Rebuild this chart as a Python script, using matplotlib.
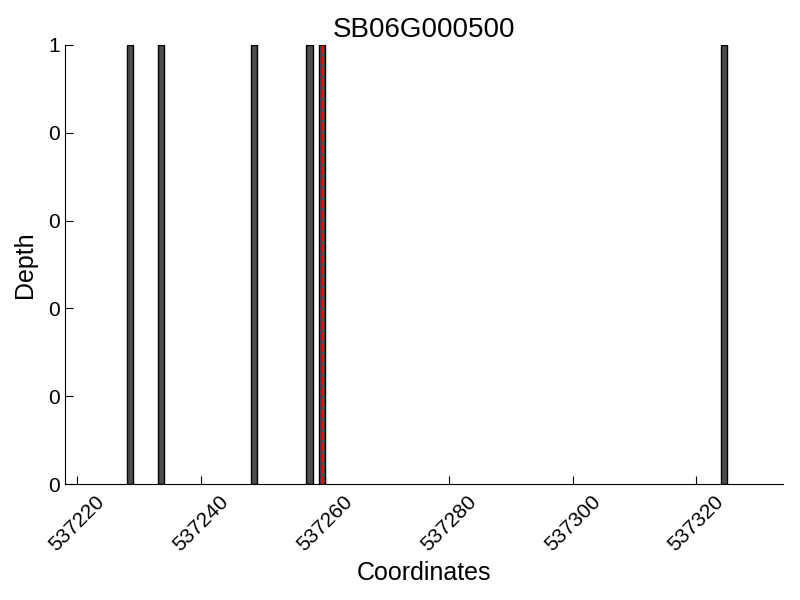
import matplotlib
matplotlib.use("Agg")
import matplotlib.pyplot as plt
from matplotlib.ticker import FormatStrFormatter

plt.rcParams['font.family'] = ['Liberation Sans', 'DejaVu Sans']

# read coverage positions (bar left edge) and depth
positions = [537228, 537233, 537248, 537257, 537259, 537324]
depth = [1, 1, 1, 1, 1, 1]
snp_pos = 537259.7
gene = "SB06G000500"
xticks = [537220, 537240, 537260, 537280, 537300, 537320]
yticks = [0, 0.2, 0.4, 0.6, 0.8, 1.0]

fig = plt.figure(figsize=(8, 6), dpi=100)
ax = fig.add_axes([0.08125, 0.1933, 0.8975, 0.7317])

ax.bar(positions, depth, width=1, align='edge', color='#4d4d4d',
       edgecolor='black', linewidth=1)
ax.axvline(snp_pos, color='red', linestyle='--', linewidth=1.5)

ax.set_xlim(positions[0] - 10, positions[-1] + 10)
ax.set_ylim(0, 1)
ax.set_xticks(xticks)
ax.set_yticks(yticks)
ax.yaxis.set_major_formatter(FormatStrFormatter('%d'))
ax.xaxis.set_major_formatter(FormatStrFormatter('%d'))

for s in ['top', 'right']:
    ax.spines[s].set_visible(False)
ax.tick_params(direction='in', length=6, labelsize=15, top=False, right=False)
ax.tick_params(axis='x', pad=6)
plt.setp(ax.get_xticklabels(), rotation=45, ha='center')

ax.set_title(gene, fontsize=20)
ax.set_xlabel("Coordinates", fontsize=18)
ax.set_ylabel("Depth", fontsize=18, labelpad=8)

fig.savefig("out.png", dpi=100)
